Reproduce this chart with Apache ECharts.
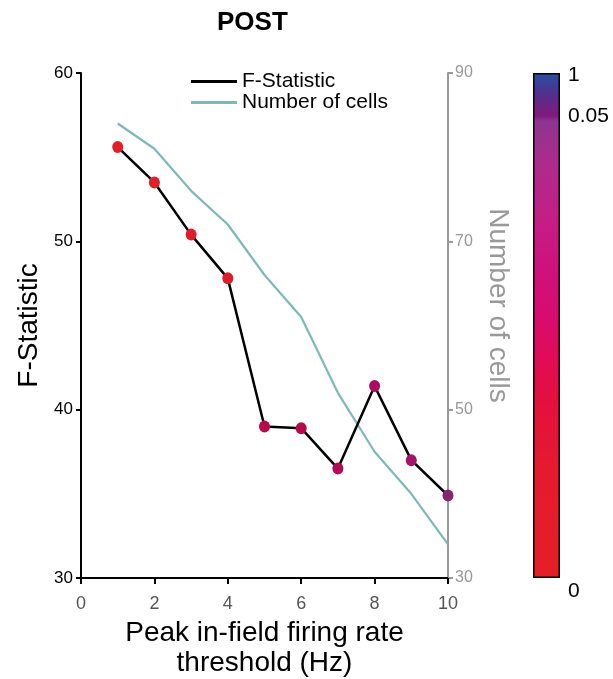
<!DOCTYPE html>
<html>
<head>
<meta charset="utf-8">
<script src="https://cdn.jsdelivr.net/npm/echarts@6/dist/echarts.min.js"></script>
<style>html,body{margin:0;padding:0;background:#fff}#c{width:613px;height:679px}</style>
</head>
<body>
<div id="c"></div>
<script>
// ---- data ----
const thresholds = [1, 2, 3, 4, 5, 6, 7, 8, 9, 10];
const fStatistic = [55.6, 53.5, 50.4, 47.8, 39.0, 38.9, 36.5, 41.4, 37.0, 34.9];
const numberOfCells = [84, 81, 76, 72, 66, 61, 52, 45, 40, 34];
const pvals = [0.001, 0.001, 0.002, 0.004, 0.024, 0.025, 0.027, 0.030, 0.037, 0.046];
const colorbarTickPvals = [0, 0.05, 1];
const colorbarTickLabels = ['0', '0.05', '1'];

// colormap stops (position along colorbar, colour)
const cmapStops = [
  [0.00, '#e41f26'], [0.23, '#e41a30'], [0.35, '#e3103e'], [0.43, '#e00c55'],
  [0.51, '#d80c6c'], [0.60, '#d0107a'], [0.71, '#c41e84'], [0.81, '#b02a8a'],
  [0.905, '#8e3590'], [0.915, '#801a7c'], [0.95, '#5b2b8a'], [0.975, '#3e3d96'],
  [1.00, '#2b4f9f']
];
const SPLIT = 0.915; // colorbar position of p = 0.05
function pvalToPos(p) {
  return p <= 0.05 ? p / 0.05 * SPLIT : SPLIT + (p - 0.05) / 0.95 * (1 - SPLIT);
}
function hex2rgb(h) { return [1,3,5].map(i => parseInt(h.substr(i, 2), 16)); }
function cmapRgb(pos) {
  for (let i = 1; i < cmapStops.length; i++) {
    if (pos <= cmapStops[i][0]) {
      const [a, ca] = cmapStops[i - 1], [b, cb] = cmapStops[i];
      const t = (pos - a) / (b - a || 1);
      const A = hex2rgb(ca), B = hex2rgb(cb);
      return A.map((v, k) => v + (B[k] - v) * t);
    }
  }
  return hex2rgb(cmapStops[cmapStops.length - 1][1]);
}
function markerColor(p) {
  const pos = pvalToPos(p);
  const shade = Math.max(0.82, 1 - 0.4 * pos);
  return 'rgb(' + cmapRgb(pos).map(v => Math.round(v * shade)).join(',') + ')';
}

const FONT = 'Liberation Sans, Arial, sans-serif';
const chart = echarts.init(document.getElementById('c'), null, { renderer: 'canvas' });

const option = {
  animation: false,
  backgroundColor: '#fff',
  textStyle: { fontFamily: FONT },
  title: {
    text: 'POST', left: 212, top: 5,
    textStyle: { fontFamily: FONT, fontSize: 26, fontWeight: 'bold', color: '#000' }
  },
  legend: {
    orient: 'vertical', left: 186, top: 66, itemWidth: 46, itemHeight: 3, itemGap: 0,
    icon: 'rect', data: ['F-Statistic', 'Number of cells'],
    textStyle: { fontFamily: FONT, fontSize: 21, color: '#000', padding: [0, 0, 0, 0] }
  },
  grid: [
    { left: 81, right: 165, top: 73, bottom: 101, outerBoundsMode: 'none', containLabel: false },
    { left: 533, width: 27, top: 73, bottom: 101, outerBoundsMode: 'none', containLabel: false }
  ],
  xAxis: [
    {
      gridIndex: 0, type: 'value', min: 0, max: 10, interval: 2,
      name: 'Peak in-field firing rate\nthreshold (Hz)', nameLocation: 'middle', nameGap: 38,
      nameTextStyle: { fontFamily: FONT, fontSize: 28, color: '#000', lineHeight: 30 },
      axisLine: { lineStyle: { color: '#000', width: 2 } },
      axisTick: { length: 6, lineStyle: { color: '#000', width: 2 } },
      axisLabel: { color: '#555', fontSize: 18, margin: 17 },
      splitLine: { show: false }
    },
    {
      gridIndex: 1, type: 'category', data: ['pval'], show: false
    }
  ],
  yAxis: [
    {
      gridIndex: 0, type: 'value', min: 30, max: 60, interval: 10, position: 'left',
      name: 'F-Statistic', nameLocation: 'middle', nameGap: 38,
      nameTextStyle: { fontFamily: FONT, fontSize: 28, color: '#000' },
      axisLine: { show: true, lineStyle: { color: '#000', width: 2 } },
      axisTick: { show: true, length: 5, lineStyle: { color: '#000', width: 2 } },
      axisLabel: { color: '#000', fontSize: 17, margin: 8 },
      splitLine: { show: false }
    },
    {
      gridIndex: 0, type: 'value', min: 30, max: 90, interval: 20, position: 'right',
      name: 'Number of cells', nameLocation: 'middle', nameGap: 36, nameRotate: -90,
      nameTextStyle: { fontFamily: FONT, fontSize: 28, color: '#999', padding: [0, 40, 0, 0] },
      axisLine: { show: true, lineStyle: { color: '#999', width: 2 } },
      axisTick: { show: true, length: 5, lineStyle: { color: '#999', width: 2 } },
      axisLabel: { color: '#999', fontSize: 16, margin: 7 },
      splitLine: { show: false }
    },
    {
      gridIndex: 1, type: 'value', min: 0, max: 1, position: 'right',
      axisLine: { show: false },
      axisTick: { show: true, inside: true, length: 7, lineStyle: { color: '#000', width: 1.5 },
                  customValues: [pvalToPos(0.05)] },
      axisLabel: {
        color: '#000', fontSize: 21, margin: 8,
        customValues: colorbarTickPvals.map(pvalToPos),
        formatter: function (v) {
          let best = 0;
          colorbarTickPvals.forEach((p, i) => {
            if (Math.abs(pvalToPos(p) - v) < Math.abs(pvalToPos(colorbarTickPvals[best]) - v)) best = i;
          });
          const t = colorbarTickLabels[best];
          if (colorbarTickPvals[best] === 0) return '{low|' + t + '}';
          if (colorbarTickPvals[best] === 1) return '{high|' + t + '}';
          return t;
        },
        rich: {
          low: { fontSize: 21, fontFamily: FONT, color: '#000', padding: [26, 0, 0, 0] },
          high: { fontSize: 21, fontFamily: FONT, color: '#000', padding: [4, 0, 0, 0] }
        }
      },
      splitLine: { show: false }
    }
  ],
  series: [
    {
      name: 'Number of cells', type: 'line', xAxisIndex: 0, yAxisIndex: 1,
      data: thresholds.map((x, i) => [x, numberOfCells[i]]),
      showSymbol: false, color: '#7fb9b7', lineStyle: { width: 2.2, color: '#7fb9b7' }, z: 1
    },
    {
      name: 'F-Statistic', type: 'line', xAxisIndex: 0, yAxisIndex: 0,
      data: thresholds.map((x, i) => [x, fStatistic[i]]),
      showSymbol: false, color: '#000', lineStyle: { width: 2.5, color: '#000' }, z: 2
    },
    {
      name: 'pval', type: 'scatter', xAxisIndex: 0, yAxisIndex: 0,
      data: thresholds.map((x, i) => [x, fStatistic[i], pvals[i]]),
      symbol: 'circle', symbolSize: [11, 12],
      itemStyle: { color: function (p) { return markerColor(p.value[2]); }, opacity: 1 },
      z: 3
    },
    {
      name: 'colorbar', type: 'bar', xAxisIndex: 1, yAxisIndex: 2,
      data: [1], barWidth: '100%', silent: true,
      itemStyle: {
        borderColor: '#000', borderWidth: 1.5,
        color: new echarts.graphic.LinearGradient(0, 1, 0, 0,
          cmapStops.map(s => ({ offset: s[0], color: s[1] })))
      }
    }
  ]
};
chart.setOption(option);
</script>
</body>
</html>
